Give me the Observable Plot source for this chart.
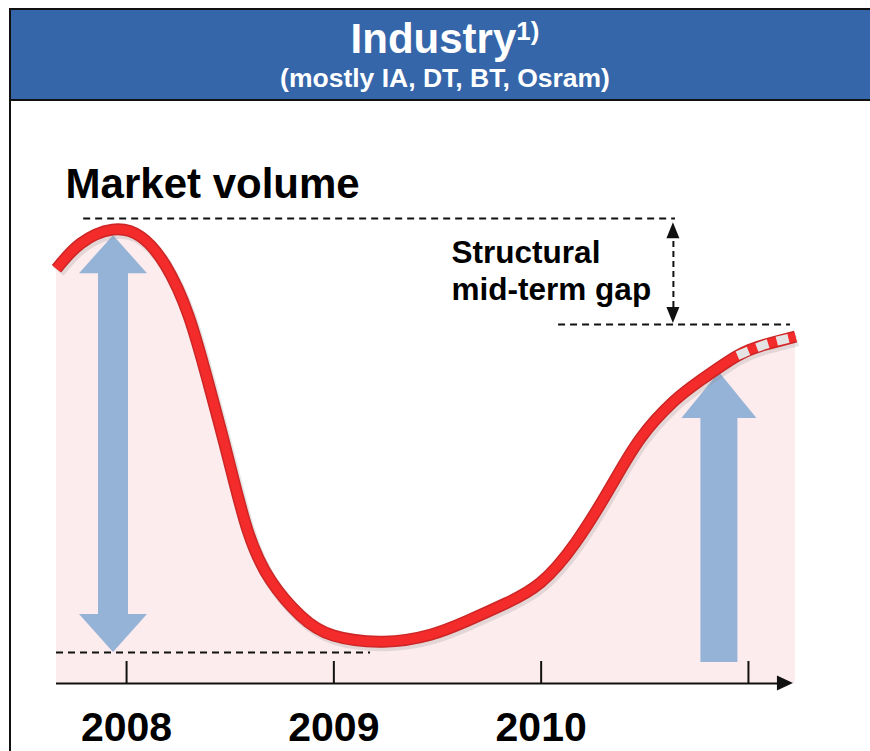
<!DOCTYPE html>
<html>
<head>
<meta charset="utf-8">
<script src="https://cdn.jsdelivr.net/npm/d3@7"></script>
<script src="https://cdn.jsdelivr.net/npm/@observablehq/plot@0.6"></script>
<style>
html, body { margin: 0; padding: 0; background: #fff; width: 870px; height: 751px; overflow: hidden; font-family: "Liberation Sans", Arial, sans-serif; }
#frame { position: absolute; left: 9px; top: 8px; width: 900px; height: 800px; border-left: 2px solid #111; border-top: 2px solid #111; }
#header { position: absolute; left: 11px; top: 10px; width: 868px; height: 89px; background: #3566aa; border-bottom: 2px solid #111; color: #fff; font-weight: bold; text-align: center; }
#title { position: absolute; left: 0; right: 0; top: 8px; font-size: 42px; line-height: 1; }
#title sup { font-size: 26px; vertical-align: baseline; position: relative; top: -13px; }
#subtitle { position: absolute; left: 0; right: 0; top: 55px; font-size: 26.5px; line-height: 1; }
#chart { position: absolute; left: 0; top: 102px; }
</style>
</head>
<body>
<div id="frame"></div>
<div id="header">
  <div id="title">Industry<sup>1)</sup></div>
  <div id="subtitle">(mostly IA, DT, BT, Osram)</div>
</div>
<div id="chart"></div>
<script>
// ---- data ----
const curveYears  = [2007.662, 2007.778, 2007.932, 2008.068, 2008.188, 2008.299, 2008.391, 2008.487, 2008.584, 2008.695, 2008.839, 2008.998, 2009.240, 2009.466, 2009.645, 2009.828, 2009.997, 2010.166, 2010.334, 2010.479, 2010.638, 2010.769, 2010.947, 2011.082, 2011.227];
const curveValues = [89.2, 94.6, 97.6, 96.1, 89.9, 79.1, 65.2, 49.0, 32.9, 22.2, 14.6, 10.3, 9.0, 10.5, 13.5, 17.2, 21.7, 30.3, 42.2, 52.7, 60.6, 65.2, 70.5, 72.9, 74.6];
const forecastStart = 2010.94;

const tickYears  = [2008, 2009, 2010, 2011];
const tickLabels = ["2008", "2009", "2010", ""];

const peakLevel = 100;
const troughLevel = 6.67;
const currentLevel = 77.2;
const peakSpan = [2007.793, 2010.648];
const troughSpan = [2007.662, 2009.177];
const currentSpan = [2010.084, 2011.203];

const declineArrow = {x: 2007.937, low: 6.67, high: 96.3};
const recoveryArrow = {x: 2010.860, low: 4.52, high: 66.9};
const gapArrow = {x: 2010.638, low: 77.4, high: 99.1};

const annotations = [
  {x: 2007.706, y: 104.5, label: "Market volume", size: 42},
  {x: 2009.568, y: 82.4, label: "Structural\nmid-term gap", size: 31.5}
];

// ---- layout ----
const W = 870, H = 649, mL = 56, mR = 75, mT = 116, mB = 68;
const xDomain = [2007.662, 2011.227];
const yDomain = [0, 100];
const pxPerYear = (W - mL - mR) / (xDomain[1] - xDomain[0]);
const pxPerUnit = (H - mT - mB) / (yDomain[1] - yDomain[0]);

const curve = curveYears.map((x, i) => ({x, y: curveValues[i]}));
const forecast = curve.filter(d => d.x >= forecastStart);

const RED = "#f42b2b", RED_EDGE = "#cc2626", PINK = "#fdecee", BLUE = "#95b3d7", INK = "#111";
const CURVE = "natural";

function vTriangle(xc, base, tip, halfPx) {
  const h = halfPx / pxPerYear;
  return [{x: xc - h, y1: base, y2: base}, {x: xc, y1: base, y2: tip}, {x: xc + h, y1: base, y2: base}];
}
function shaft(xc, y1, y2, halfPx) {
  const h = halfPx / pxPerYear;
  return [{x1: xc - h, x2: xc + h, y1, y2}];
}

const marks = [];
// pink area under the curve
marks.push(Plot.areaY(curve, {x: "x", y: "y", fill: PINK, curve: CURVE}));

// dashed reference lines
const dashOpts = {stroke: INK, strokeWidth: 1.8, strokeDasharray: "7,5"};
marks.push(Plot.ruleY([peakLevel], {x1: peakSpan[0], x2: peakSpan[1], ...dashOpts}));
marks.push(Plot.ruleY([troughLevel], {x1: troughSpan[0], x2: troughSpan[1], ...dashOpts}));
marks.push(Plot.ruleY([currentLevel], {x1: currentSpan[0], x2: currentSpan[1], ...dashOpts}));

// blue decline double arrow
{
  const hl = 38 / pxPerUnit;
  const a = declineArrow;
  marks.push(Plot.rect(shaft(a.x, a.low + hl - 0.2, a.high - hl + 0.2, 15), {x1: "x1", x2: "x2", y1: "y1", y2: "y2", fill: BLUE}));
  marks.push(Plot.areaY(vTriangle(a.x, a.high - hl, a.high, 34), {x: "x", y1: "y1", y2: "y2", fill: BLUE}));
  marks.push(Plot.areaY(vTriangle(a.x, a.low + hl, a.low, 34), {x: "x", y1: "y1", y2: "y2", fill: BLUE}));
}
// blue recovery arrow
{
  const hl = 46 / pxPerUnit;
  const a = recoveryArrow;
  marks.push(Plot.rect(shaft(a.x, a.low, a.high - hl + 0.2, 18.5), {x1: "x1", x2: "x2", y1: "y1", y2: "y2", fill: BLUE}));
  marks.push(Plot.areaY(vTriangle(a.x, a.high - hl, a.high, 37.5), {x: "x", y1: "y1", y2: "y2", fill: BLUE}));
}

// the market curve
const lineBase = {x: "x", y: "y", curve: CURVE, strokeLinecap: "butt"};
marks.push(Plot.line(curve, {...lineBase, stroke: "#888", strokeOpacity: 0.22, strokeWidth: 13, dx: 2, dy: 3}));
marks.push(Plot.line(curve, {...lineBase, stroke: RED_EDGE, strokeWidth: 12}));
marks.push(Plot.line(curve, {...lineBase, stroke: RED, strokeWidth: 9}));
marks.push(Plot.line(forecast, {...lineBase, stroke: "#e4e4e4", strokeWidth: 9, strokeDasharray: "12,9"}));

// structural gap arrow (dashed with filled heads)
{
  const hl = 16 / pxPerUnit;
  const a = gapArrow;
  marks.push(Plot.ruleX([a.x], {y1: a.low + hl, y2: a.high - hl, stroke: INK, strokeWidth: 2, strokeDasharray: "6,4"}));
  marks.push(Plot.areaY(vTriangle(a.x, a.high - hl, a.high, 6.5), {x: "x", y1: "y1", y2: "y2", fill: INK}));
  marks.push(Plot.areaY(vTriangle(a.x, a.low + hl, a.low, 6.5), {x: "x", y1: "y1", y2: "y2", fill: INK}));
}

// x axis line with arrow head
{
  const tip = 2011.217, base = 2011.140, hh = 7.5 / pxPerUnit;
  marks.push(Plot.ruleY([0], {x1: xDomain[0], x2: base + 0.01, stroke: INK, strokeWidth: 2}));
  marks.push(Plot.areaX([{y: hh, x1: base, x2: base}, {y: 0, x1: base, x2: tip}, {y: -hh, x1: base, x2: base}], {y: "y", x1: "x1", x2: "x2", fill: INK}));
}
// ticks pointing upward
marks.push(Plot.ruleX(tickYears, {y1: 0, y2: 22 / pxPerUnit, stroke: INK, strokeWidth: 2}));
// tick labels
marks.push(Plot.axisX(tickYears, {
  anchor: "bottom", tickSize: 0, tickPadding: 28,
  tickFormat: d => tickLabels[tickYears.indexOf(d)],
  fontSize: 41, fontWeight: "bold", fill: "#000"
}));

// annotations
for (const t of annotations) {
  marks.push(Plot.text([t], {x: "x", y: "y", text: "label", textAnchor: "start", lineAnchor: "bottom", lineHeight: 1.2, fontSize: t.size, fontWeight: "bold", fill: "#000"}));
}

const chart = Plot.plot({
  width: W, height: H,
  marginLeft: mL, marginRight: mR, marginTop: mT, marginBottom: mB,
  x: {domain: xDomain},
  y: {domain: yDomain, axis: null},
  style: {fontFamily: '"Liberation Sans", Arial, sans-serif', background: "transparent", overflow: "visible"},
  marks
});
document.getElementById("chart").appendChild(chart);
</script>
</body>
</html>
